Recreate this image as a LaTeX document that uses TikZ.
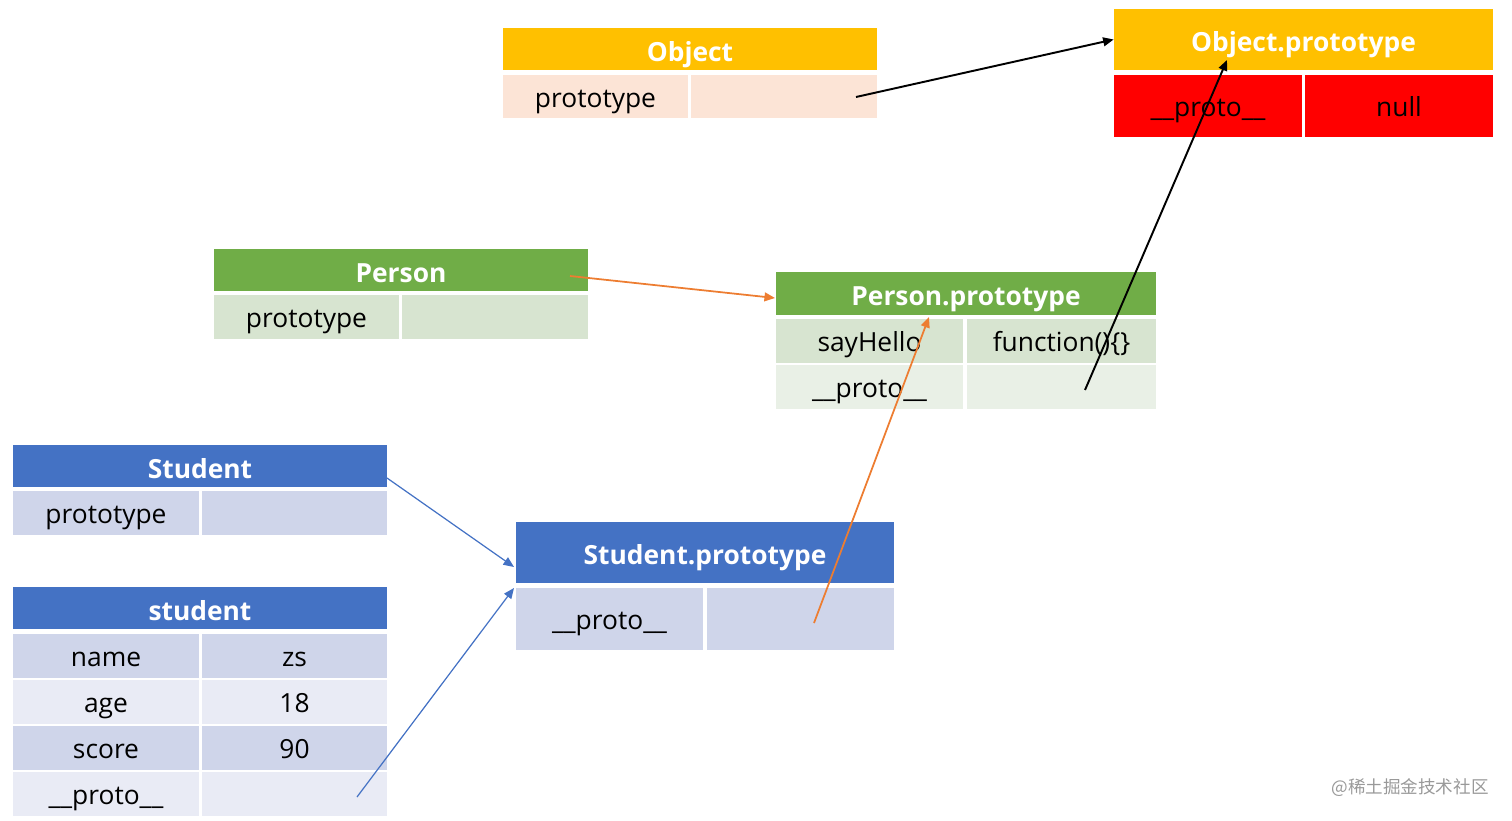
\documentclass[tikz,border=0pt]{standalone}
\usepackage{fontspec}
\setmainfont{Open Sans}
\newfontfamily\cjkfont{Noto Sans CJK SC}
\usetikzlibrary{arrows.meta}
\definecolor{objyellow}{HTML}{FFC000}
\definecolor{objpeach}{HTML}{FCE4D6}
\definecolor{protored}{HTML}{FF0000}
\definecolor{pergreen}{HTML}{70AD47}
\definecolor{pergreenA}{HTML}{D7E4D0}
\definecolor{pergreenB}{HTML}{E9F0E6}
\definecolor{stublue}{HTML}{4472C4}
\definecolor{stublueA}{HTML}{CFD5EA}
\definecolor{stublueB}{HTML}{E9EBF5}
\definecolor{linkorange}{HTML}{ED7D31}
\tikzset{%
    cell/.style={%
        shape=rectangle, inner sep=0pt, minimum height=0.88cm,
        text height=1.35em, text depth=0.12em,
        font=\fontsize{15}{18}\selectfont, text=black
    },
    head/.style={%
        cell, minimum width=7.48cm, minimum height=0.84cm,
        text height=1.5em, text depth=0.1em,
        font=\fontsize{15}{18}\selectfont\bfseries, text=white
    },
    link/.style={%
        -{Triangle[length=6pt,width=5pt]}
    }
}

\begin{document}
\begin{tikzpicture}[x=0.02cm, y=-0.02cm]
    \useasboundingbox (0,0) rectangle (1512,821);

    \node[head, fill=objyellow] (objh) at (690,49) {Object};
    \node[cell, fill=objpeach, minimum width=3.7cm] (objk) at (595.5,96.5) {prototype};
    \node[cell, fill=objpeach, minimum width=3.72cm] (objv) at (784,96.5) {};

    \node[head, fill=objyellow, minimum width=7.58cm, minimum height=1.22cm] (oph) at (1303.5,39.5) {Object.prototype};
    \node[cell, fill=protored, minimum width=3.76cm, minimum height=1.24cm] (opk) at (1208,106) {\_\_proto\_\_};
    \node[cell, fill=protored, minimum width=3.76cm, minimum height=1.24cm] (opv) at (1399,106) {null};

    \node[head, fill=pergreen] (perh) at (401,270) {Person};
    \node[cell, fill=pergreenA, minimum width=3.7cm] (perk) at (306.5,317) {prototype};
    \node[cell, fill=pergreenA, minimum width=3.72cm] (perv) at (495,317) {};

    \node[head, fill=pergreen, minimum width=7.6cm, minimum height=0.86cm] (pph) at (966,293.5) {Person.prototype};
    \node[cell, fill=pergreenA, minimum width=3.74cm] (ppk1) at (869.5,341) {sayHello};
    \node[cell, fill=pergreenA, minimum width=3.78cm] (ppv1) at (1061.5,341) {function()\{\}};
    \node[cell, fill=pergreenB, minimum width=3.74cm] (ppk2) at (869.5,387) {\_\_proto\_\_};
    \node[cell, fill=pergreenB, minimum width=3.78cm] (ppv2) at (1061.5,387) {};

    \node[head, fill=stublue] (stuh) at (200,466) {Student};
    \node[cell, fill=stublueA, minimum width=3.72cm] (stuk) at (106,513) {prototype};
    \node[cell, fill=stublueA, minimum width=3.7cm] (stuv) at (294.5,513) {};

    \node[head, fill=stublue, minimum width=7.56cm, minimum height=1.22cm] (sph) at (705,552.5) {Student.prototype};
    \node[cell, fill=stublueA, minimum width=3.74cm, minimum height=1.24cm] (spk) at (609.5,619) {\_\_proto\_\_};
    \node[cell, fill=stublueA, minimum width=3.74cm, minimum height=1.24cm] (spv) at (800.5,619) {};

    \node[head, fill=stublue] (sh) at (200,608) {student};
    \node[cell, fill=stublueA, minimum width=3.72cm] (sk1) at (106,656) {name};
    \node[cell, fill=stublueA, minimum width=3.7cm] (sv1) at (294.5,656) {zs};
    \node[cell, fill=stublueB, minimum width=3.72cm] (sk2) at (106,702) {age};
    \node[cell, fill=stublueB, minimum width=3.7cm] (sv2) at (294.5,702) {18};
    \node[cell, fill=stublueA, minimum width=3.72cm] (sk3) at (106,748) {score};
    \node[cell, fill=stublueA, minimum width=3.7cm] (sv3) at (294.5,748) {90};
    \node[cell, fill=stublueB, minimum width=3.72cm] (sk4) at (106,794) {\_\_proto\_\_};
    \node[cell, fill=stublueB, minimum width=3.7cm] (sv4) at (294.5,794) {};

    \coordinate (objfrom) at (856,97);
    \coordinate (ppfrom) at (1085,390);
    \coordinate (opto) at (1227,60);
    \coordinate (perfrom) at (570,276);
    \coordinate (pphto) at (775,298);
    \coordinate (spfrom) at (814,623);
    \coordinate (ppto) at (929,317);
    \coordinate (stufrom) at (387,478);
    \coordinate (sphto) at (514,567);
    \coordinate (sfrom) at (357,797);
    \coordinate (spkto) at (514,588);

    \draw[link, line width=1.1pt] (objfrom) -- (oph.west);
    \draw[link, line width=1.1pt] (ppfrom) -- (opto);
    \draw[link, linkorange, line width=1pt] (perfrom) -- (pphto);
    \draw[link, linkorange, line width=1pt] (spfrom) -- (ppto);
    \draw[link, stublue, line width=0.7pt] (stufrom) -- (sphto);
    \draw[link, stublue, line width=0.7pt] (sfrom) -- (spkto);

    \node[text=black!40, font=\cjkfont\fontsize{10}{12}\selectfont] (mark) at (1410,788) {@稀土掘金技术社区};
\end{tikzpicture}
\end{document}
